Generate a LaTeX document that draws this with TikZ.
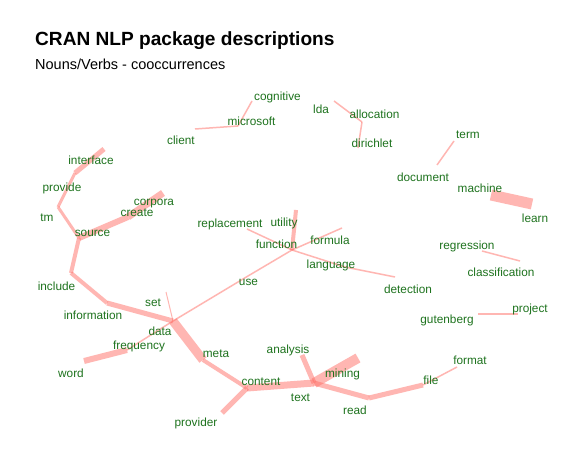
\documentclass[tikz,border=0pt]{standalone}
\usepackage{fontspec}
\setmainfont{Liberation Sans}
\definecolor{edgec}{RGB}{255,111,102}
\definecolor{lblc}{RGB}{30,115,30}
\tikzset{
  lbl/.style={anchor=base,inner sep=0pt,yshift=-1.5bp,text=lblc,font=\fontsize{11.8bp}{14bp}\selectfont},
  edge/.style={draw=edgec,draw opacity=0.5,line width=#1},
  edge/.default=1.5bp
}
\begin{document}
\begin{tikzpicture}[x=1bp,y=-1bp]
\useasboundingbox[fill=white] (0,0) rectangle (584,463);
\node[anchor=base west,inner sep=0pt,font=\fontsize{19.1bp}{22bp}\selectfont\bfseries] (title) at (35,46) {CRAN NLP package descriptions};
\node[anchor=base west,inner sep=0pt,font=\fontsize{14.5bp}{17bp}\selectfont] (subtitle) at (35,70) {Nouns/Verbs - cooccurrences};
% vertices
\coordinate (v-client) at (195,129);
\coordinate (v-microsoft) at (238,126);
\coordinate (v-cognitive) at (252,101);
\coordinate (v-lda) at (334,101);
\coordinate (v-allocation) at (362,122);
\coordinate (v-dirichlet) at (358,148);
\coordinate (v-term) at (454,141);
\coordinate (v-document) at (437,165);
\coordinate (v-machine) at (491,195);
\coordinate (v-learn) at (532,204);
\coordinate (v-regression) at (482,251);
\coordinate (v-classification) at (520,261);
\coordinate (v-gutenberg) at (478,314);
\coordinate (v-project) at (518,314);
\coordinate (v-format) at (457,367);
\coordinate (v-file) at (423,385);
\coordinate (v-read) at (369,398);
\coordinate (v-text) at (314,383);
\coordinate (v-mining) at (358,358);
\coordinate (v-analysis) at (302,355);
\coordinate (v-content) at (247,388);
\coordinate (v-provider) at (222,413);
\coordinate (v-meta) at (203,360);
\coordinate (v-data) at (173,321);
\coordinate (v-set) at (166,292);
\coordinate (v-information) at (107,303);
\coordinate (v-include) at (71,273);
\coordinate (v-source) at (79,238);
\coordinate (v-tm) at (58,207);
\coordinate (v-provide) at (75,173);
\coordinate (v-interface) at (104,149);
\coordinate (v-create) at (128,217);
\coordinate (v-corpora) at (163,193);
\coordinate (v-frequency) at (127,350);
\coordinate (v-word) at (84,361);
\coordinate (v-use) at (248,276);
\coordinate (v-function) at (292,250);
\coordinate (v-utility) at (296,210);
\coordinate (v-replacement) at (247,229);
\coordinate (v-formula) at (342,228);
\coordinate (v-language) at (345,267);
\coordinate (v-detection) at (395,277);
% edges
\draw[edge] (v-client) -- (v-microsoft);
\draw[edge] (v-microsoft) -- (v-cognitive);
\draw[edge] (v-lda) -- (v-allocation);
\draw[edge] (v-allocation) -- (v-dirichlet);
\draw[edge] (v-term) -- (v-document);
\draw[edge=11bp] (v-machine) -- (v-learn);
\draw[edge] (v-regression) -- (v-classification);
\draw[edge] (v-gutenberg) -- (v-project);
\draw[edge] (v-file) -- (v-format);
\draw[edge=5bp] (v-read) -- (v-file);
\draw[edge=5bp] (v-text) -- (v-read);
\draw[edge=10bp] (v-text) -- (v-mining);
\draw[edge=5bp] (v-analysis) -- (v-text);
\draw[edge=7bp] (v-content) -- (v-text);
\draw[edge=5bp] (v-content) -- (v-provider);
\draw[edge=4bp] (v-meta) -- (v-content);
\draw[edge=9bp] (v-data) -- (v-meta);
\draw[edge=1bp] (v-data) -- (v-set);
\draw[edge=5bp] (v-data) -- (v-information);
\draw[edge=4bp] (v-information) -- (v-include);
\draw[edge=4bp] (v-include) -- (v-source);
\draw[edge=3bp] (v-source) -- (v-tm);
\draw[edge=3bp] (v-tm) -- (v-provide);
\draw[edge=5bp] (v-provide) -- (v-interface);
\draw[edge=6bp] (v-source) -- (v-create);
\draw[edge=7bp] (v-create) -- (v-corpora);
\draw[edge] (v-data) -- (v-frequency);
\draw[edge=6bp] (v-frequency) -- (v-word);
\draw[edge] (v-data) -- (v-use);
\draw[edge] (v-use) -- (v-function);
\draw[edge=4bp] (v-function) -- (v-utility);
\draw[edge] (v-function) -- (v-replacement);
\draw[edge] (v-function) -- (v-formula);
\draw[edge] (v-function) -- (v-language);
\draw[edge] (v-language) -- (v-detection);
% labels
\node[lbl] (cognitive) at (277.5,99) {cognitive};
\node[lbl] (microsoft) at (251.5,124) {microsoft};
\node[lbl] (client) at (181,143) {client};
\node[lbl] (lda) at (321,112) {lda};
\node[lbl] (allocation) at (374.5,117) {allocation};
\node[lbl] (dirichlet) at (372,146) {dirichlet};
\node[lbl] (term) at (468,137) {term};
\node[lbl] (document) at (423,180) {document};
\node[lbl] (machine) at (480,191) {machine};
\node[lbl] (learn) at (535,221) {learn};
\node[lbl] (regression) at (467,248) {regression};
\node[lbl] (classification) at (501,275) {classification};
\node[lbl] (project) at (530,311) {project};
\node[lbl] (gutenberg) at (447,322) {gutenberg};
\node[lbl] (format) at (470,363) {format};
\node[lbl] (file) at (431,383) {file};
\node[lbl] (mining) at (342.5,376) {mining};
\node[lbl] (text) at (300.5,400) {text};
\node[lbl] (read) at (355,413) {read};
\node[lbl] (analysis) at (288,352) {analysis};
\node[lbl] (content) at (261,384) {content};
\node[lbl] (provider) at (196,425) {provider};
\node[lbl] (meta) at (216,356) {meta};
\node[lbl] (data) at (160,334) {data};
\node[lbl] (frequency) at (139,348) {frequency};
\node[lbl] (word) at (71,376) {word};
\node[lbl] (set) at (153,305) {set};
\node[lbl] (information) at (93,318) {information};
\node[lbl] (include) at (56.5,289) {include};
\node[lbl] (use) at (248.5,284) {use};
\node[lbl] (utility) at (284,225) {utility};
\node[lbl] (replacement) at (230,226) {replacement};
\node[lbl] (function) at (276.5,247) {function};
\node[lbl] (formula) at (330,243) {formula};
\node[lbl] (language) at (331,267) {language};
\node[lbl] (detection) at (408,292) {detection};
\node[lbl] (source) at (92.5,235) {source};
\node[lbl] (tm) at (47,220) {tm};
\node[lbl] (provide) at (62,190) {provide};
\node[lbl] (interface) at (91,163) {interface};
\node[lbl] (create) at (137,215) {create};
\node[lbl] (corpora) at (154,204) {corpora};
\end{tikzpicture}
\end{document}
